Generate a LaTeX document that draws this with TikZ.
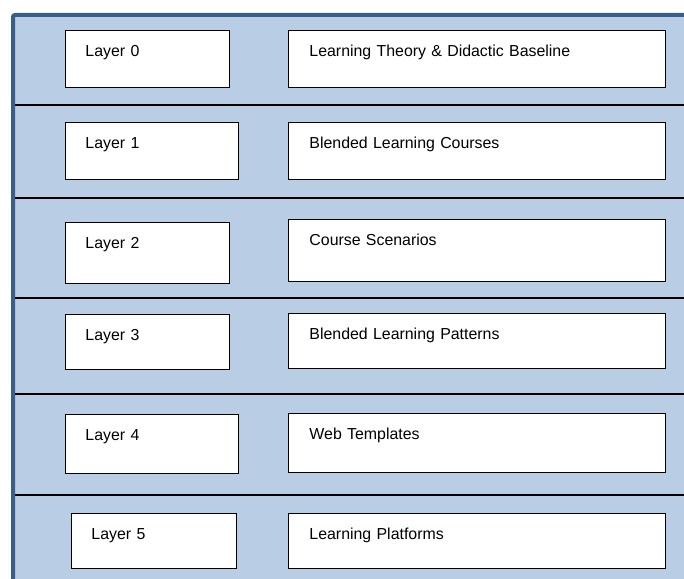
\documentclass[tikz,border=0pt]{standalone}
\usepackage{fontspec}
\setmainfont{Liberation Sans}
\usepackage{tikz}
\usetikzlibrary{positioning}
\definecolor{layerblue}{RGB}{185,205,229}
\definecolor{frameblue}{RGB}{58,94,140}

\begin{document}
\begin{tikzpicture}[
    x=1pt, y=-1pt,
    box/.style={rectangle, draw=black, line width=0.9pt, fill=white, anchor=north west,
                inner xsep=20pt, inner ysep=0pt, text height=26pt, align=left,
                font=\fontsize{15.9}{18}\selectfont},
    layerbox/.style={box, text width=124pt},
    namebox/.style={box, inner xsep=21pt, text width=335pt},
    sep/.style={draw=black, line width=1.4pt}
]
    \useasboundingbox (0,0) rectangle (684,578);
    \clip (0,0) rectangle (684,578);

    % background panel with the dark frame on top and left
    \fill[layerblue] (13,15) rectangle (700,600);
    \draw[frameblue, line width=4pt, rounded corners=2pt] (13,600) -- (13,15) -- (700,15);

    % row separators
    \draw[sep] (15,105) -- (684,105);
    \draw[sep] (15,198) -- (684,198);
    \draw[sep] (15,298) -- (684,298);
    \draw[sep] (15,394) -- (684,394);
    \draw[sep] (15,495) -- (684,495);

    \node[layerbox, text depth=31pt] (layer0) at (65,30) {Layer 0};
    \node[namebox, text depth=31pt] (name0) at (288,30) {Learning Theory \& Didactic Baseline};

    \node[layerbox, text width=133pt, text depth=31pt] (layer1) at (65,122) {Layer 1};
    \node[namebox, text depth=31pt] (name1) at (288,122) {Blended Learning Courses};

    \node[layerbox, text depth=35pt] (layer2) at (65,222) {Layer 2};
    \node[namebox, text depth=36pt] (name2) at (288,219) {Course Scenarios};

    \node[layerbox, text depth=29pt] (layer3) at (65,314) {Layer 3};
    \node[namebox, text depth=29pt] (name3) at (288,313) {Blended Learning Patterns};

    \node[layerbox, text width=133pt, text depth=33pt] (layer4) at (65,414) {Layer 4};
    \node[namebox, text depth=33pt] (name4) at (288,413) {Web Templates};

    \node[layerbox, text width=125pt, text depth=29pt] (layer5) at (71,513) {Layer 5};
    \node[namebox, text depth=29pt] (name5) at (288,513) {Learning Platforms};
\end{tikzpicture}
\end{document}
